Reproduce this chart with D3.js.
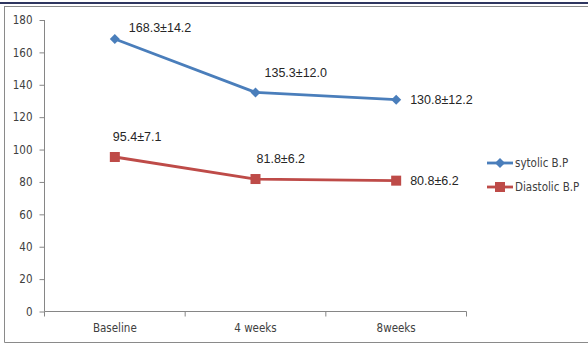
<!DOCTYPE html>
<html><head><meta charset="utf-8">
<script src="https://cdn.jsdelivr.net/npm/d3@7"></script>
<style>body{margin:0;background:#fff}svg{display:block}</style>
</head><body>
<script>
const categories = ["Baseline", "4 weeks", "8weeks"];
const systolic = [168.3, 135.3, 130.8];
const diastolic = [95.4, 81.8, 80.8];
const systolicLabels = ["168.3±14.2", "135.3±12.0", "130.8±12.2"];
const diastolicLabels = ["95.4±7.1", "81.8±6.2", "80.8±6.2"];
const yTicks = [0, 20, 40, 60, 80, 100, 120, 140, 160, 180];
const seriesNames = ["sytolic B.P", "Diastolic B.P"];

const W = 588, H = 344;
const svg = d3.select("body").append("svg").attr("width", W).attr("height", H);

// frame
svg.append("line").attr("x1",0).attr("x2",W).attr("y1",3).attr("y2",3).attr("stroke","#2f3660").attr("stroke-width",2);
svg.append("line").attr("x1",4).attr("x2",W).attr("y1",6.5).attr("y2",6.5).attr("stroke","#8a8a8a").attr("stroke-width",1);
svg.append("line").attr("x1",4.5).attr("x2",4.5).attr("y1",6.5).attr("y2",342.5).attr("stroke","#8a8a8a");
svg.append("line").attr("x1",4.5).attr("x2",W).attr("y1",342.5).attr("y2",342.5).attr("stroke","#8a8a8a");

const x0 = 44.5, x1 = 466.5, yTop = 20, yBot = 311.5;
const x = d3.scaleBand().domain(categories).range([x0, x1]);
const y = d3.scaleLinear().domain([0, 180]).range([yBot, yTop]);

const axisColor = "#868686";
const font = "'DejaVu Sans Condensed', 'DejaVu Sans', sans-serif";

// y axis
const ya = svg.append("g").attr("transform", `translate(${x0},0)`)
  .call(d3.axisLeft(y).tickValues(yTicks).tickSize(5).tickPadding(7).tickFormat(d3.format("d")));
ya.selectAll(".tick line").attr("stroke", axisColor);
ya.selectAll("text").attr("fill", "#404040").style("font-family", font).style("font-size", "11.5px");
ya.select(".domain").attr("stroke", axisColor).attr("d", `M0,${y(180)}V${yBot}`);

// x axis
const xa = svg.append("g").attr("transform", `translate(0,${yBot})`)
  .call(d3.axisBottom(x).tickSize(0).tickPadding(12));
xa.select(".domain").attr("stroke", axisColor).attr("d", `M${x0},0H${x1}`);
xa.selectAll("text").attr("fill", "#404040").style("font-family", font).style("font-size", "11.5px");
const boundaries = [x0].concat(categories.map(c => x(c) + x.bandwidth()));
xa.selectAll(".bt").data(boundaries).enter().append("line")
  .attr("x1", d => d).attr("x2", d => d).attr("y1", 0).attr("y2", 5).attr("stroke", axisColor);

const cx = c => x(c) + x.bandwidth() / 2;
const line = d3.line().x((d, i) => cx(categories[i])).y(d => y(d));

const series = [
  {vals: systolic, labels: systolicLabels, color: "#4a7ebb", marker: "diamond"},
  {vals: diastolic, labels: diastolicLabels, color: "#be4b48", marker: "square"}
];

function drawMarker(g, type, color, px, py) {
  if (type === "diamond") {
    g.append("path").attr("d", `M${px},${py-5}L${px+5},${py}L${px},${py+5}L${px-5},${py}Z`).attr("fill", color);
  } else {
    g.append("rect").attr("x", px-5).attr("y", py-5).attr("width", 10).attr("height", 10).attr("fill", color);
  }
}

series.forEach((s, si) => {
  const g = svg.append("g");
  g.append("path").datum(s.vals).attr("d", line).attr("fill", "none")
    .attr("stroke", s.color).attr("stroke-width", 2.8).attr("stroke-linejoin", "round");
  s.vals.forEach((v, i) => drawMarker(g, s.marker, s.color, cx(categories[i]), y(v)));
  s.vals.forEach((v, i) => {
    const px = cx(categories[i]), py = y(v);
    let dx, dy;
    if (i === s.vals.length - 1) { dx = 14; dy = 0; }
    else if (si === 0 && i === 0) { dx = 14; dy = -11; }
    else { dx = si === 0 ? 9 : (i === 0 ? -2 : 1); dy = -20; }
    g.append("text").attr("x", px + dx).attr("y", py + dy).attr("dy", "0.35em")
      .attr("fill", "#262626").style("font-family", "'Liberation Sans', Arial, sans-serif").style("font-size", "12.5px")
      .text(s.labels[i]);
  });
});

// legend
const lg = svg.append("g");
series.forEach((s, si) => {
  const ly = 163 + si * 24;
  lg.append("line").attr("x1", 487).attr("x2", 513).attr("y1", ly).attr("y2", ly).attr("stroke", s.color).attr("stroke-width", 2.8);
  drawMarker(lg, s.marker, s.color, 500, ly);
  lg.append("text").attr("x", 515).attr("y", ly).attr("dy", "0.35em").attr("fill", "#404040")
    .style("font-family", font).style("font-size", "11.5px").text(seriesNames[si]);
});
</script>
</body></html>
